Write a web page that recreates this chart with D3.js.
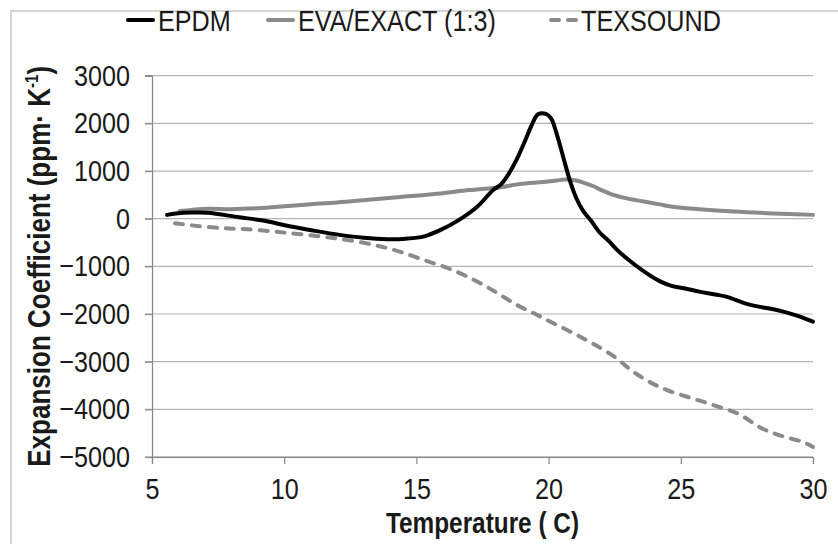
<!DOCTYPE html>
<html>
<head>
<meta charset="utf-8">
<script src="https://cdn.jsdelivr.net/npm/d3@7"></script>
<style>
  body { margin: 0; background: #fff; }
  svg text { font-family: "Liberation Sans", Arial, sans-serif; fill: #1a1a1a; }
</style>
</head>
<body>
<svg width="838" height="544"></svg>
<script>
// Series values (temperature in C, coefficient in ppm/K)
var epdmT = [5.57, 5.9, 6.5, 7.1, 8.3, 9.2, 10.2, 11.1, 12.1, 13.0, 13.9, 14.6, 15.3, 15.9, 16.6, 17.3, 17.9, 18.2, 18.5, 18.8, 19.1, 19.35, 19.6, 19.9, 20.1, 20.3, 20.55, 20.8, 21.05, 21.3, 21.6, 21.95, 22.3, 22.6, 23.2, 23.8, 24.2, 24.65, 25.2, 25.7, 26.3, 26.75, 27.4, 27.9, 28.3, 28.8, 29.3, 30.0];
var epdmV = [80, 110, 130, 125, 30, -40, -160, -250, -340, -400, -430, -420, -370, -240, -30, 250, 600, 720, 950, 1250, 1620, 1950, 2190, 2200, 2100, 1790, 1300, 810, 430, 170, -40, -300, -480, -660, -940, -1180, -1310, -1410, -1470, -1530, -1590, -1640, -1770, -1840, -1880, -1940, -2020, -2160];

var evaT = [6.05, 6.5, 7.1, 8.0, 9.0, 10.0, 10.9, 12.0, 13.4, 14.5, 15.9, 17.0, 18.2, 18.9, 19.8, 20.3, 20.6, 21.05, 21.4, 21.7, 22.0, 22.45, 23.0, 23.6, 24.2, 24.7, 25.7, 27.0, 28.5, 30.0];
var evaV = [160, 185, 210, 200, 220, 260, 300, 340, 410, 460, 530, 600, 660, 730, 770, 800, 820, 800, 740, 680, 600, 500, 420, 360, 300, 250, 200, 150, 110, 80];

var texT = [5.87, 6.5, 7.7, 8.6, 9.6, 10.5, 11.5, 12.4, 13.4, 14.3, 15.3, 16.2, 17.2, 18.0, 18.8, 19.5, 20.2, 21.0, 21.7, 22.5, 23.2, 23.9, 24.5, 25.2, 25.9, 26.5, 27.2, 28.0, 28.6, 29.2, 29.6, 30.0];
var texV = [-95, -140, -200, -220, -270, -320, -380, -450, -550, -680, -870, -1040, -1290, -1540, -1810, -2000, -2200, -2420, -2630, -2900, -3210, -3450, -3600, -3730, -3850, -3960, -4100, -4380, -4520, -4620, -4680, -4790];

var xTicks = [5, 10, 15, 20, 25, 30];
var yTicks = [3000, 2000, 1000, 0, -1000, -2000, -3000, -4000, -5000];
var seriesNames = ["EPDM", "EVA/EXACT (1:3)", "TEXSOUND"];

var narrow = 0.84; // the source text is a condensed face

var svg = d3.select("svg");

// squeeze text horizontally around its own anchor point
function squeeze(sel) {
  sel.each(function() {
    var t = d3.select(this),
        ax = +t.attr("x") || 0,
        ay = +t.attr("y") || 0;
    t.attr("transform", "translate(" + ax + "," + ay + ") scale(" + narrow + ",1) translate(" + (-ax) + "," + (-ay) + ")");
  });
}

// outer chart frame (runs off the right and bottom edges)
svg.append("rect")
   .attr("x", 11).attr("y", 11)
   .attr("width", 840).attr("height", 545)
   .attr("fill", "none")
   .attr("stroke", "#c8c8c8")
   .attr("stroke-width", 1.5);

var x = d3.scaleLinear().domain([5, 30]).range([152, 813]),
    y = d3.scaleLinear().domain([-5000, 3000]).range([457, 75.7]);

// gridlines
svg.append("g")
   .selectAll("line")
   .data(yTicks)
   .enter().append("line")
   .attr("x1", 145).attr("x2", x(30))
   .attr("y1", function(d) { return y(d); })
   .attr("y2", function(d) { return y(d); })
   .attr("stroke", function(d) { return d === -5000 ? "#868686" : "#b4b4b4"; })
   .attr("stroke-width", 1.2);

// y axis
var yAxis = svg.append("g")
   .attr("transform", "translate(" + x(5) + ",0)")
   .call(d3.axisLeft(y).tickValues(yTicks).tickFormat(d3.format("d")).tickSize(7).tickPadding(15));
yAxis.select(".domain").attr("stroke", "#868686").attr("stroke-width", 1.2);
yAxis.selectAll(".tick line").attr("stroke", "#868686").attr("stroke-width", 1.2);
yAxis.selectAll("text").attr("font-size", 30).attr("fill", "#1a1a1a").call(squeeze);

// x axis
var xAxis = svg.append("g")
   .attr("transform", "translate(0," + y(-5000) + ")")
   .call(d3.axisBottom(x).tickValues(xTicks).tickSize(7).tickPadding(14));
xAxis.select(".domain").attr("stroke", "#868686").attr("stroke-width", 1.2);
xAxis.selectAll(".tick line").attr("stroke", "#868686").attr("stroke-width", 1.2);
xAxis.selectAll("text").attr("font-size", 30).attr("fill", "#1a1a1a").call(squeeze);

// axis titles
svg.append("text")
   .attr("x", (x(5) + x(30)) / 2)
   .attr("y", 533)
   .attr("text-anchor", "middle")
   .attr("font-size", 29)
   .attr("font-weight", "bold")
   .text("Temperature ( C)")
   .call(squeeze);

var yt = svg.append("text")
   .attr("transform", "translate(50," + (y(3000) + y(-5000)) / 2 + ") rotate(-90) scale(" + narrow + ",1)")
   .attr("text-anchor", "middle")
   .attr("font-size", 31)
   .attr("font-weight", "bold");
yt.append("tspan").text("Expansion Coefficient (ppm\u00b7 K");
yt.append("tspan").attr("font-size", 18).attr("dy", -12).text("-1");
yt.append("tspan").attr("dy", 12).text(")");

// lines
var line = d3.line()
   .x(function(d) { return x(d[0]); })
   .y(function(d) { return y(d[1]); })
   .curve(d3.curveCatmullRom.alpha(0.5));

var series = [
  { t: evaT, v: evaV, color: "#8a8a8a", dash: null },
  { t: texT, v: texV, color: "#8a8a8a", dash: "8,9" },
  { t: epdmT, v: epdmV, color: "#000000", dash: null }
];

svg.selectAll(".series")
   .data(series)
   .enter().append("path")
   .attr("class", "series")
   .attr("d", function(s) { return line(d3.zip(s.t, s.v)); })
   .attr("fill", "none")
   .attr("stroke", function(s) { return s.color; })
   .attr("stroke-width", 4)
   .attr("stroke-linecap", "round")
   .attr("stroke-linejoin", "round")
   .attr("stroke-dasharray", function(s) { return s.dash; });

// legend
var legendItems = [
  { name: seriesNames[0], x: 126, color: "#000000", dash: null },
  { name: seriesNames[1], x: 266, color: "#8a8a8a", dash: null },
  { name: seriesNames[2], x: 549, color: "#8a8a8a", dash: "8,9" }
];

var lg = svg.selectAll(".legend")
   .data(legendItems)
   .enter().append("g")
   .attr("class", "legend")
   .attr("transform", function(d) { return "translate(" + d.x + ",20)"; });

lg.append("line")
   .attr("x1", 2).attr("x2", 27)
   .attr("stroke", function(d) { return d.color; })
   .attr("stroke-width", 4)
   .attr("stroke-linecap", "round")
   .attr("stroke-dasharray", function(d) { return d.dash; });

lg.append("text")
   .attr("x", 32)
   .attr("y", 11)
   .attr("font-size", 30)
   .text(function(d) { return d.name; })
   .call(squeeze);
</script>
</body>
</html>
